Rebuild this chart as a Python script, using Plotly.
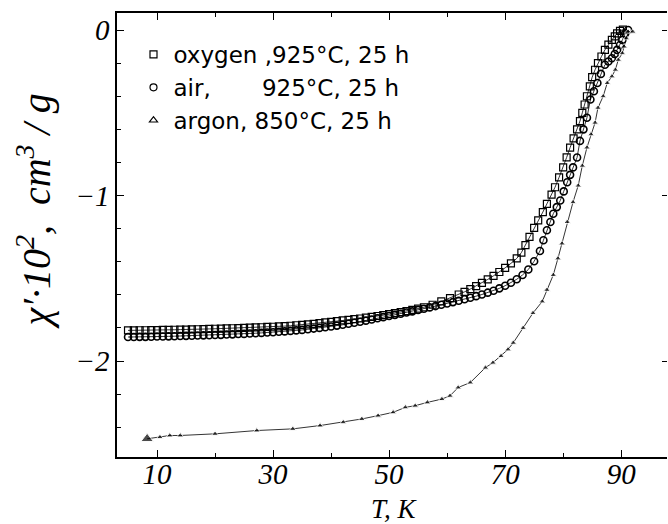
import plotly.graph_objects as go

# ---------------- data ----------------
T_oxygen = [5, 6, 7, 8, 9, 10, 11, 12, 13, 14, 15, 16, 17, 18, 19, 20, 21, 22, 23, 24,
            25, 26, 27, 28, 29, 30, 31, 32, 33, 34, 35, 36, 37, 38, 39, 40, 41, 42, 43, 44,
            45, 46, 47, 48, 49, 50, 51, 52, 53, 54, 55, 56, 57.5, 59, 60.5, 62, 63, 64, 65,
            66, 67, 68, 69, 70, 71, 72, 72.8, 73.5, 74.2, 75, 75.7, 76.5, 77.2, 78, 78.6,
            79.3, 80, 80.6, 81.2, 81.8, 82.4, 82.9, 83.3, 83.7, 84.1, 84.6, 85, 85.5, 86,
            86.6, 87.2, 87.8, 88.4, 88.9, 89.3, 89.8, 90.3]
chi_oxygen = [-1.815, -1.815, -1.814, -1.814, -1.813, -1.813, -1.812, -1.812, -1.811, -1.810,
              -1.810, -1.809, -1.808, -1.807, -1.806, -1.805, -1.804, -1.803, -1.802, -1.801,
              -1.800, -1.798, -1.797, -1.796, -1.794, -1.793, -1.791, -1.789, -1.787, -1.784,
              -1.781, -1.778, -1.775, -1.771, -1.767, -1.763, -1.759, -1.755, -1.751, -1.747,
              -1.743, -1.738, -1.733, -1.728, -1.723, -1.717, -1.711, -1.705, -1.698, -1.691,
              -1.683, -1.675, -1.660, -1.640, -1.620, -1.598, -1.582, -1.565, -1.547,
              -1.528, -1.507, -1.485, -1.462, -1.437, -1.410, -1.380, -1.345, -1.300, -1.250,
              -1.195, -1.150, -1.100, -1.050, -0.995, -0.950,
              -0.890, -0.830, -0.770, -0.710, -0.655, -0.600, -0.550, -0.500, -0.450, -0.400,
              -0.340, -0.285, -0.240, -0.200, -0.160, -0.120, -0.088, -0.060, -0.038, -0.020,
              -0.005, 0.002]

T_air = [5, 6, 7, 8, 9, 10, 11, 12, 13, 14, 15, 16, 17, 18, 19, 20, 21, 22, 23, 24,
         25, 26, 27, 28, 29, 30, 31, 32, 33, 34, 35, 36, 37, 38, 39, 40, 41, 42, 43, 44,
         45, 46, 47, 48, 49, 50, 51, 52, 53, 54, 55, 56, 57, 58, 59, 60, 61, 62, 63, 64,
         65, 66, 67, 68, 69, 70, 71, 72, 73, 74, 75, 76, 76.6, 77.2, 77.8, 78.3, 78.9,
         79.5, 80.1, 80.7, 81.2, 81.7, 82.4, 82.9, 83.5, 84.1, 84.7, 85.3, 85.9, 86.5,
         87.2, 87.8, 88.4, 88.9, 89.3, 89.8, 90.2, 90.7, 91.2]
chi_air = [-1.855, -1.855, -1.854, -1.854, -1.853, -1.852, -1.852, -1.851, -1.850, -1.849,
           -1.848, -1.847, -1.846, -1.845, -1.844, -1.843, -1.842, -1.840, -1.839, -1.837,
           -1.836, -1.834, -1.832, -1.830, -1.828, -1.826, -1.823, -1.821, -1.818, -1.815,
           -1.812, -1.808, -1.804, -1.800, -1.796, -1.791, -1.786, -1.781, -1.775, -1.769,
           -1.763, -1.756, -1.749, -1.742, -1.735, -1.728, -1.721, -1.714, -1.707, -1.700,
           -1.692, -1.684, -1.676, -1.668, -1.660, -1.652, -1.644, -1.636, -1.627, -1.618,
           -1.608, -1.598, -1.587, -1.575, -1.561, -1.545, -1.527, -1.506, -1.480, -1.447,
           -1.397, -1.335, -1.270, -1.210, -1.160, -1.110, -1.070,
           -1.030, -0.975, -0.920, -0.875, -0.830, -0.770, -0.670, -0.600, -0.530, -0.420,
           -0.370, -0.320, -0.265, -0.210, -0.190, -0.170, -0.145, -0.120, -0.090, -0.060,
           -0.020, 0.000]

T_argon = [8.3, 10.5, 12.2, 14.0, 20.0, 27.2, 33.4, 38.1, 42.1, 45.3, 48.1, 50.7, 52.8,
           54.5, 56.6, 59.1, 60.5, 61.9, 64.0, 66.6, 67.9, 69.3, 70.5, 71.4, 73.1, 74.8,
           76.4, 77.2, 78.3, 79.1, 79.8, 80.7, 81.7, 82.6, 83.3, 84.1, 84.8, 85.5, 86.0,
           86.9, 87.6, 88.4, 89.0, 89.5, 90.2, 90.5, 90.9, 91.2, 92.0]
chi_argon = [-2.47, -2.46, -2.45, -2.45, -2.44, -2.42, -2.41, -2.39, -2.37, -2.35, -2.33,
             -2.31, -2.28, -2.27, -2.25, -2.23, -2.21, -2.16, -2.13, -2.04, -2.01, -1.97,
             -1.93, -1.89, -1.80, -1.71, -1.64, -1.57, -1.48, -1.38, -1.29, -1.16, -1.04,
             -0.94, -0.82, -0.71, -0.63, -0.56, -0.47, -0.40, -0.32, -0.28, -0.24, -0.18,
             -0.14, -0.10, -0.05, -0.01, -0.01]

legend_labels = ["oxygen ,925°C, 25 h",
                 "air,\u00a0\u00a0\u00a0\u00a0\u00a0\u00a0\u00a0925°C, 25 h",
                 "argon, 850°C, 25 h"]

x_tick_vals = [10, 30, 50, 70, 90]
y_tick_vals = [0, -1, -2]
x_range = [3.1, 97.9]
y_range = [-2.58, 0.103]

# ---------------- figure ----------------
fig = go.Figure()
thin = dict(color="black", width=0.8)

fig.add_trace(go.Scatter(
    x=T_oxygen, y=chi_oxygen, mode="lines+markers", line=thin,
    marker=dict(symbol="square-open", size=7, color="black", line=dict(width=1.2)),
    showlegend=False))
fig.add_trace(go.Scatter(
    x=T_air, y=chi_air, mode="lines+markers", line=thin,
    marker=dict(symbol="circle-open", size=7, color="black", line=dict(width=1.6)),
    showlegend=False))
argon_sizes = [11] + [6] * (len(T_argon) - 1)
fig.add_trace(go.Scatter(
    x=T_argon, y=chi_argon, mode="lines+markers", line=thin,
    marker=dict(symbol="triangle-up", size=argon_sizes, color="black"),
    showlegend=False))

# legend-only entries
for sym, lab in zip(["square-open", "circle-open", "triangle-up-open"], legend_labels):
    fig.add_trace(go.Scatter(
        x=[None], y=[None], mode="markers", name=lab,
        marker=dict(symbol=sym, size=7, color="black", line=dict(width=1.2))))

# invisible trace so the right-hand tick stubs are drawn
fig.add_trace(go.Scatter(x=[None], y=[None], yaxis="y2", showlegend=False,
                         hoverinfo="skip"))

tickfont = dict(family="Liberation Serif", size=29, color="black", style="italic")

fig.update_xaxes(
    range=x_range, tickvals=x_tick_vals, ticks="inside", ticklen=7, tickwidth=1.2,
    tickcolor="black", showline=True, linewidth=1.5, linecolor="black", mirror="ticks",
    showgrid=False, zeroline=False, tickfont=tickfont, ticklabelstandoff=-10,
    minor=dict(tickvals=[20, 40, 60, 80], ticks="inside", ticklen=4, tickcolor="black",
               tickwidth=1))
fig.update_yaxes(
    range=y_range, tickvals=y_tick_vals, ticktext=["0", "\u22121", "\u22122"],
    ticks="inside", ticklen=7, tickwidth=1.2, tickcolor="black", showline=True,
    linewidth=1.5, linecolor="black", mirror=False, showgrid=False, zeroline=False,
    tickfont=tickfont,
    minor=dict(dtick=0.2, tick0=0, ticks="inside", ticklen=4, tickcolor="black",
               tickwidth=1))

fig.update_layout(
    width=668, height=524,
    margin=dict(l=117, r=1, t=13, b=67),
    paper_bgcolor="white", plot_bgcolor="white",
    showlegend=True,
    yaxis2=dict(overlaying="y", side="right", range=y_range, tickvals=y_tick_vals,
                ticks="inside", ticklen=5, tickwidth=1, tickcolor="black",
                showticklabels=False, showline=False, showgrid=False, zeroline=False),
    legend=dict(x=0.03, y=0.955, xanchor="left", yanchor="top",
                font=dict(family="DejaVu Sans", size=23, color="black"),
                bgcolor="rgba(0,0,0,0)", borderwidth=0, tracegroupgap=0,
                itemsizing="trace"),
    annotations=[
        dict(text="<i>T, K</i>", xref="paper", yref="paper", x=0.505, y=-0.117,
             xanchor="center", yanchor="middle", showarrow=False,
             font=dict(family="Liberation Serif", size=27, color="black")),
        dict(text="<i>χ′·10<sup>2</sup>,\u00a0\u00a0cm<sup>3</sup>\u00a0/\u00a0g</i>",
             xref="paper", yref="paper",
             x=-0.15, y=0.552, xanchor="center", yanchor="middle", textangle=-90,
             showarrow=False,
             font=dict(family="Liberation Serif", size=40, color="black")),
    ],
)

fig.write_html("out.html", config={"displayModeBar": False},
               post_script="document.body.style.margin='0';document.body.style.overflow='hidden';")
